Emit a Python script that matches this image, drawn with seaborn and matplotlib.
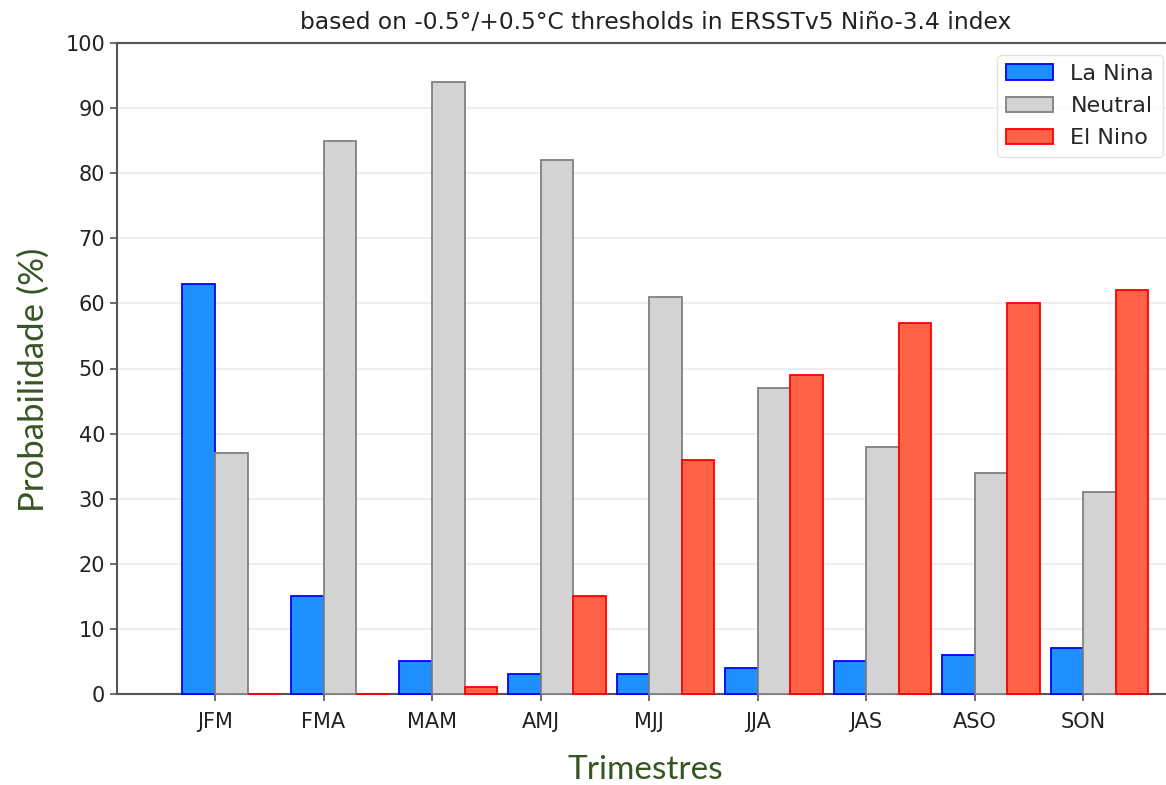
import matplotlib
matplotlib.use("Agg")
import matplotlib.pyplot as plt
import seaborn as sns
import pandas as pd
import numpy as np

categories = ["JFM", "FMA", "MAM", "AMJ", "MJJ", "JJA", "JAS", "ASO", "SON"]
la_nina = [63, 15, 5, 3, 3, 4, 5, 6, 7]
neutral = [37, 85, 94, 82, 61, 47, 38, 34, 31]
el_nino = [0, 0, 1, 15, 36, 49, 57, 60, 62]
series_names = ["La Nina", "Neutral", "El Nino"]
fill_colors = ["#1E90FF", "#D3D3D3", "#FF6347"]
edge_colors = ["#0000FF", "#808080", "#FF0000"]

df = pd.DataFrame({
    "Trimestre": categories * 3,
    "Prob": la_nina + neutral + el_nino,
    "Tipo": [series_names[0]] * 9 + [series_names[1]] * 9 + [series_names[2]] * 9,
})

sns.set_theme(style="ticks")
plt.rcParams['font.family'] = ['DejaVu Sans']

fig = plt.figure(figsize=(11.66, 7.85), dpi=100)
ax = fig.add_axes([117/1166, 1 - 694/785, (1195 - 117)/1166, (694 - 43)/785])

sns.barplot(data=df, x="Trimestre", y="Prob", hue="Tipo", order=categories,
            hue_order=series_names, palette=fill_colors, width=0.9, saturation=1,
            linewidth=1.3, ax=ax, legend=True)

for cont, ec in zip(ax.containers, edge_colors):
    for p in cont:
        p.set_edgecolor(ec)
        p.set_zorder(3)
        p.set_clip_on(False)

ax.set_ylim(0, 100)
ax.set_yticks(np.arange(0, 101, 10))
ax.set_xticks(np.arange(len(categories)) - 0.15)
ax.set_xticklabels(categories)
ax.set_xlim(-1.053, 8.88)
ax.tick_params(axis="both", labelsize=15, colors="#555555", labelcolor="#222222", length=5, width=1.2)
ax.tick_params(axis="x", pad=8)
ax.yaxis.grid(True, color="#EBEBEB", linewidth=1.2)
ax.set_axisbelow(True)
for s in ["left", "bottom", "top"]:
    ax.spines[s].set_color("#555555")
    ax.spines[s].set_linewidth(1.5)
ax.spines["right"].set_visible(False)

ax.set_title("based on -0.5°/+0.5°C thresholds in ERSSTv5 Niño-3.4 index",
             fontsize=16.8, color="#222222", pad=10)
ax.set_xlabel("Trimestres", fontsize=24, color="#375623", family=["Lato", "DejaVu Sans"])
ax.set_ylabel("Probabilidade (%)", fontsize=25, color="#375623", family=["Lato", "DejaVu Sans"])
ax.xaxis.set_label_coords((645 - 117) / 1078, (694 - 755) / 651)
ax.yaxis.set_label_coords((50 - 117) / 1078, (694 - 380) / 651)

leg = ax.legend(loc="upper right", bbox_to_anchor=(1163/1166, 1 - 55/785),
                bbox_transform=fig.transFigure, fontsize=16, frameon=True,
                borderaxespad=0, handlelength=2.1, labelspacing=0.55)
leg.get_frame().set_edgecolor("#DDDDDD")
for h, ec in zip(leg.legend_handles, edge_colors):
    h.set_edgecolor(ec)

fig.savefig("out.png", dpi=100)
